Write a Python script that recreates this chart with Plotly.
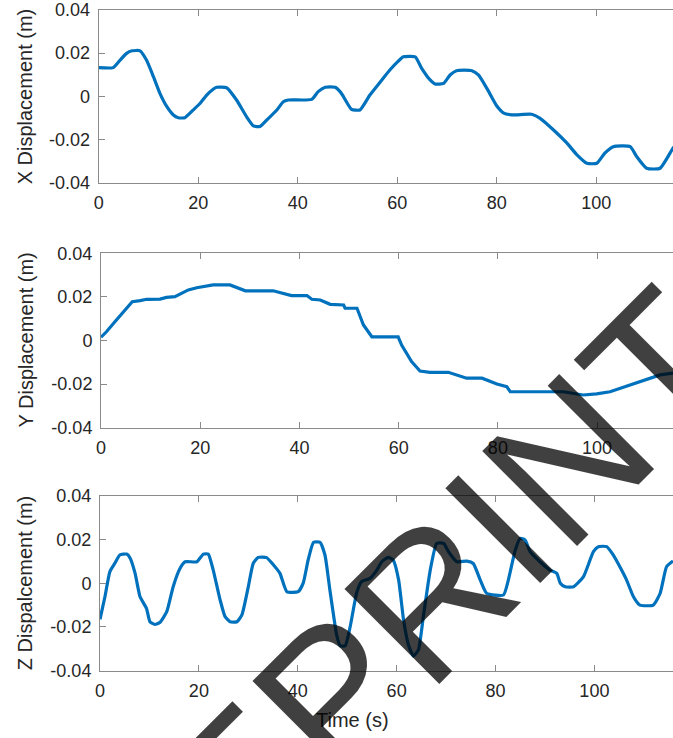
import plotly.graph_objects as go

# ---- data: displacement time histories ----
t_x = [0, 2.9, 4.3, 5.6, 6.7, 8.3, 9.6, 11.0, 12.3, 13.7, 15.0, 16.0, 17.3, 19.0, 20.4,
       21.7, 23.0, 23.7, 25.7, 27.7, 29.7, 31.1, 32.4, 33.8, 35.8, 37.1, 38.1, 42.8, 44.1,
       45.5, 47.5, 48.5, 49.2, 50.8, 52.5, 54.5, 56.9, 58.5, 60.2, 61.2, 63.6, 64.9, 66.6,
       67.6, 69.3, 70.6, 71.9, 75.0, 76.3, 78.0, 80.0, 81.3, 83.0, 87.0, 88.7, 91.4, 94.1,
       96.1, 98.1, 100.1, 101.7, 103.4, 106.8, 108.1, 110.1, 112.8, 115.4, 116.0]
x_disp = [0.0133, 0.0133, 0.0168, 0.0199, 0.0211, 0.0211, 0.0168, 0.0091, 0.0014, -0.0048,
          -0.0086, -0.0099, -0.0099, -0.0063, -0.0032, 0.0006, 0.0033, 0.0042, 0.0040, -0.0017,
          -0.0094, -0.0137, -0.0140, -0.0109, -0.0063, -0.0025, -0.0017, -0.0014, 0.0022,
          0.0042, 0.0042, 0.0022, -0.0002, -0.0060, -0.0063, 0.0006, 0.0076, 0.0122, 0.0163,
          0.0183, 0.0183, 0.0130, 0.0076, 0.0057, 0.0060, 0.0099, 0.0119, 0.0119, 0.0099,
          0.0037, -0.0045, -0.0076, -0.0086, -0.0083, -0.0102, -0.0156, -0.0217, -0.0271,
          -0.0310, -0.0310, -0.0263, -0.0233, -0.0233, -0.0279, -0.0333, -0.0333, -0.0240,
          -0.0225]

t_y = [0, 1.1, 2.8, 4.5, 5.3, 6.3, 7.9, 9.2, 11.9, 13.2, 14.9, 15.9, 17.6, 19.3, 20.6,
       22.6, 26.0, 27.5, 29.1, 34.7, 36.8, 38.4, 41.5, 42.5, 44.2, 46.2, 48.9, 49.2, 51.6,
       52.9, 54.6, 59.9, 60.6, 62.6, 64.3, 66.3, 70.0, 73.7, 76.8, 79.8, 81.8, 82.5, 86.5,
       93.2, 97.2, 99.9, 102.6, 104.6, 107.3, 110.0, 112.7, 115.3, 116.0]
y_disp = [0.0015, 0.0040, 0.0086, 0.0132, 0.0155, 0.0178, 0.0183, 0.0189, 0.0190, 0.0198,
          0.0201, 0.0213, 0.0232, 0.0242, 0.0247, 0.0255, 0.0255, 0.0242, 0.0228, 0.0228,
          0.0216, 0.0206, 0.0206, 0.0189, 0.0186, 0.0166, 0.0163, 0.0148, 0.0148, 0.0071,
          0.0017, 0.0017, -0.0021, -0.0097, -0.0140, -0.0146, -0.0146, -0.0173, -0.0173,
          -0.0200, -0.0212, -0.0235, -0.0235, -0.0235, -0.0250, -0.0245, -0.0235, -0.0220,
          -0.0200, -0.0181, -0.0158, -0.0150, -0.0150]

t_z = [0, 1.0, 2.0, 3.0, 4.0, 5.4, 6.1, 7.1, 8.1, 9.4, 10.1, 11.1, 12.1, 13.5, 14.8, 16.2,
       17.2, 19.6, 20.9, 21.9, 22.9, 24.3, 25.3, 26.3, 27.7, 28.7, 30.0, 31.0, 32.0, 33.7,
       35.1, 36.4, 37.8, 40.1, 41.1, 42.1, 43.2, 44.5, 45.5, 46.5, 47.9, 48.6, 49.6, 50.6,
       51.9, 52.9, 54.6, 56.0, 57.0, 58.3, 59.3, 60.4, 61.4, 62.4, 63.4, 64.4, 65.4, 66.8,
       68.1, 69.5, 70.5, 72.2, 74.2, 75.5, 76.9, 78.2, 81.6, 82.6, 84.0, 85.0, 86.0, 87.0,
       89.0, 91.0, 92.4, 93.1, 94.1, 95.8, 97.8, 99.8, 100.8, 102.5, 103.8, 105.5, 106.5,
       107.9, 109.2, 111.9, 113.3, 114.6, 115.9]
z_disp = [-0.0165, -0.0062, 0.0053, 0.0091, 0.0129, 0.0133, 0.0114, 0.0045, -0.0062, -0.0115,
          -0.0176, -0.0188, -0.0180, -0.0130, -0.0016, 0.0068, 0.0098, 0.0098, 0.0133, 0.0133,
          0.0060, -0.0077, -0.0153, -0.0176, -0.0176, -0.0145, -0.0016, 0.0091, 0.0118,
          0.0117, 0.0083, 0.0045, -0.0039, -0.0039, 0.0000, 0.0106, 0.0187, 0.0187, 0.0129,
          -0.0031, -0.0240, -0.0286, -0.0286, -0.0199, -0.0046, 0.0007, 0.0022, 0.0060,
          0.0098, 0.0118, 0.0106, 0.0015, -0.0168, -0.0283, -0.0333, -0.0305, -0.0153, 0.0060,
          0.0182, 0.0182, 0.0144, 0.0098, 0.0101, 0.0090, 0.0015, -0.0046, -0.0054, 0.0015,
          0.0152, 0.0205, 0.0197, 0.0144, 0.0098, 0.0060, 0.0045, 0.0000, -0.0016, -0.0016,
          0.0030, 0.0144, 0.0167, 0.0167, 0.0129, 0.0060, 0.0015, -0.0062, -0.0100, -0.0100,
          -0.0046, 0.0075, 0.0101]

y_ticks = [-0.04, -0.02, 0, 0.02, 0.04]
y_tick_text = ["-0.04", "-0.02", "0", "0.02", "0.04"]
x_ticks = [0, 20, 40, 60, 80, 100, 120]
x_tick_text = ["0", "20", "40", "60", "80", "100", "120"]

y_titles = ["X Displacement (m)", "Y Displacement (m)", "Z Dispalcement (m)"]
x_title = "Time (s)"
watermark = "PREPRINT"

# ---- page geometry (pixels) ----
W, H = 673, 738
panels = [  # (left, top, bottom) of each axes box
    (98.7, 10.0, 182.7),
    (101.0, 253.3, 427.7),
    (100.0, 495.7, 670.7),
]
x_max = [115.4, 115.3, 115.9]

LINE_BLUE = "#0072BD"
TEXT = "#262626"
AXIS = "#8a8a8a"
FONT = "Liberation Sans, Arial, Helvetica, sans-serif"

series = [(t_x, x_disp, 0.5), (t_y, y_disp, 0.0), (t_z, z_disp, 0.5)]

fig = go.Figure()
layout = dict(
    width=W, height=H,
    margin=dict(l=0, r=0, t=0, b=0, autoexpand=False),
    paper_bgcolor="white", plot_bgcolor="white",
    showlegend=False,
    font=dict(family=FONT, color=TEXT, size=18),
)

annotations = []
for i, ((t, v, sm), (left, top, bottom), xm) in enumerate(zip(series, panels, x_max), start=1):
    sfx = "" if i == 1 else str(i)
    line = dict(color=LINE_BLUE, width=3.2)
    if sm > 0:
        line.update(shape="spline", smoothing=sm)
    fig.add_trace(go.Scatter(x=t, y=v, mode="lines", line=line,
                             xaxis="x" + sfx, yaxis="y" + sfx, hoverinfo="skip"))
    layout["xaxis" + sfx] = dict(
        domain=[left / W, 1], anchor="y" + sfx, range=[0, xm], automargin=False,
        tickvals=x_ticks, ticktext=x_tick_text,
        ticks="inside", ticklen=6, tickcolor=AXIS, tickwidth=1,
        showline=True, linecolor=AXIS, linewidth=1, mirror="ticks",
        showgrid=False, zeroline=False, ticklabelstandoff=4,
        tickfont=dict(size=18, color=TEXT, family=FONT),
    )
    layout["yaxis" + sfx] = dict(
        domain=[1 - bottom / H, 1 - top / H], anchor="x" + sfx, range=[-0.04, 0.04],
        automargin=False,
        tickvals=y_ticks, ticktext=y_tick_text,
        ticks="inside", ticklen=6, tickcolor=AXIS, tickwidth=1,
        showline=True, linecolor=AXIS, linewidth=1, mirror=False,
        showgrid=False, zeroline=False, ticklabelstandoff=4,
        tickfont=dict(size=18, color=TEXT, family=FONT),
    )
    annotations.append(dict(
        text=y_titles[i - 1], xref="paper", yref="paper",
        x=25 / W, y=1 - (top + bottom) / 2 / H,
        xanchor="center", yanchor="middle", textangle=-90, showarrow=False,
        font=dict(size=20, color=TEXT, family=FONT),
    ))

annotations.append(dict(
    text=x_title, xref="paper", yref="paper", x=352 / W, y=1 - 720 / H,
    xanchor="center", yanchor="middle", showarrow=False,
    font=dict(size=20, color=TEXT, family=FONT),
))

# diagonal stamp across the lower right
annotations.append(dict(
    text=watermark, xref="paper", yref="paper", x=353 / W, y=1 - 674 / H,
    xanchor="center", yanchor="middle", textangle=-45, showarrow=False,
    font=dict(size=195, color="rgba(0,0,0,0.75)", family=FONT),
))

layout["annotations"] = annotations
fig.update_layout(**layout)
fig.write_html("out.html")
